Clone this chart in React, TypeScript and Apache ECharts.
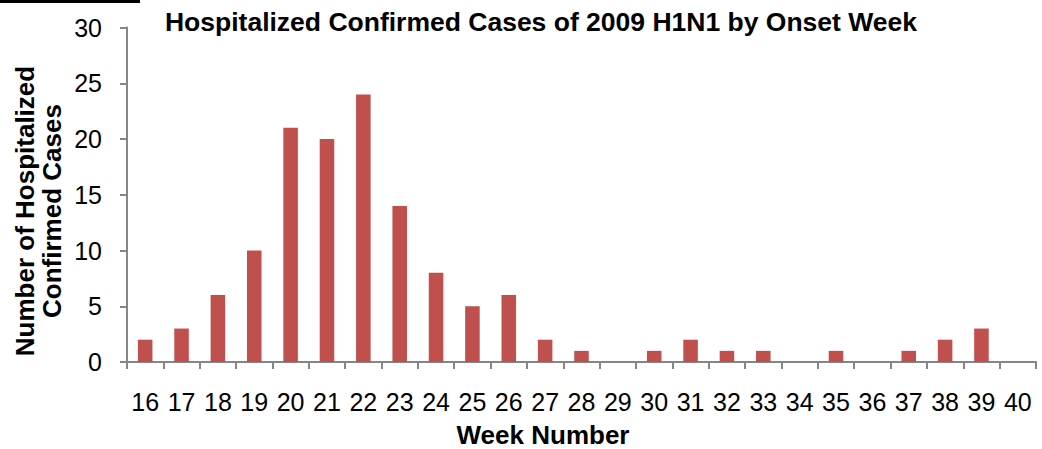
import React, { useEffect, useRef } from "react";
import * as echarts from "echarts";

const weeks: string[] = [
  "16", "17", "18", "19", "20", "21", "22", "23", "24", "25", "26", "27", "28",
  "29", "30", "31", "32", "33", "34", "35", "36", "37", "38", "39", "40",
];
const hospitalizedCases: number[] = [
  2, 3, 6, 10, 21, 20, 24, 14, 8, 5, 6, 2, 1, 0, 1, 2, 1, 1, 0, 1, 0, 1, 2, 3, 0,
];
const yTicks = { min: 0, max: 30, interval: 5 };
const titleText = "Hospitalized Confirmed Cases of 2009 H1N1 by Onset Week";
const xAxisTitle = "Week Number";
const yAxisTitle = "Number of Hospitalized\nConfirmed Cases";

const FONT = '"Liberation Sans", Arial, sans-serif';
const AXIS_GREY = "#868686";

export default function App() {
  const ref = useRef<HTMLDivElement>(null);
  useEffect(() => {
    if (!ref.current) return;
    const chart = echarts.init(ref.current, null, { renderer: "svg" });
    chart.setOption({
      animation: false,
      backgroundColor: "#ffffff",
      textStyle: { fontFamily: FONT },
      grid: { left: 127, right: 6, top: 27.5, bottom: 87, containLabel: false },
      xAxis: {
        type: "category",
        data: weeks,
        boundaryGap: true,
        axisLine: { lineStyle: { color: AXIS_GREY, width: 2 } },
        axisTick: { show: true, length: 7, lineStyle: { color: AXIS_GREY, width: 2 } },
        axisLabel: {
          interval: 0,
          color: "#000",
          fontSize: 25,
          fontFamily: FONT,
          margin: 27,
        },
      },
      yAxis: {
        type: "value",
        min: yTicks.min,
        max: yTicks.max,
        interval: yTicks.interval,
        splitLine: { show: false },
        axisLine: { show: true, lineStyle: { color: AXIS_GREY, width: 2 } },
        axisTick: { show: true, length: 7, lineStyle: { color: AXIS_GREY, width: 2 } },
        axisLabel: { color: "#000", fontSize: 25, fontFamily: FONT, margin: 25 },
      },
      series: [
        {
          type: "bar",
          data: hospitalizedCases,
          barWidth: "40%",
          itemStyle: { color: "#C0504D" },
        },
      ],
      graphic: [
        { type: "rect", shape: { x: 0, y: 0, width: 140, height: 3 }, style: { fill: "#000" } },
        {
          type: "text",
          x: 541,
          y: 22,
          style: {
            text: titleText,
            fontSize: 26.5,
            fontWeight: "bold",
            fontFamily: FONT,
            fill: "#000",
            align: "center",
            verticalAlign: "middle",
          },
        },
        {
          type: "text",
          x: 543,
          y: 435,
          style: {
            text: xAxisTitle,
            fontSize: 26,
            fontWeight: "bold",
            fontFamily: FONT,
            fill: "#000",
            align: "center",
            verticalAlign: "middle",
          },
        },
        {
          type: "text",
          x: 38,
          y: 211,
          rotation: Math.PI / 2,
          style: {
            text: yAxisTitle,
            fontSize: 26,
            lineHeight: 27,
            fontWeight: "bold",
            fontFamily: FONT,
            fill: "#000",
            align: "center",
            verticalAlign: "middle",
          },
        },
      ],
    });
    return () => chart.dispose();
  }, []);
  return (
    <div
      ref={ref}
      style={{ position: "fixed", left: 0, top: 0, width: 1042, height: 449 }}
    />
  );
}
